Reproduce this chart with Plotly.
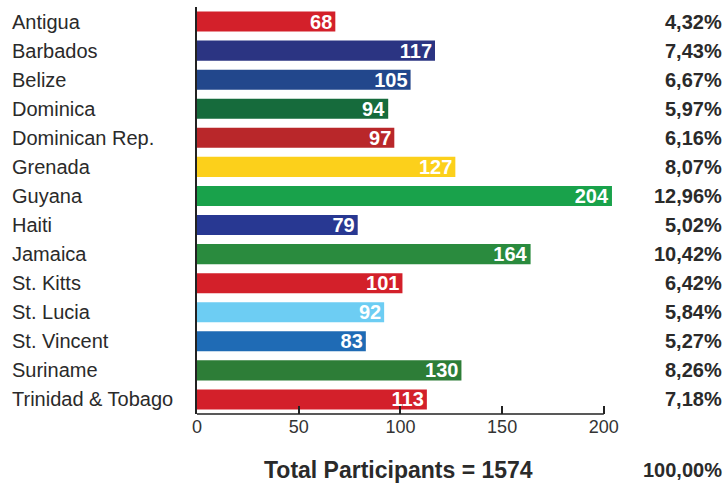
import plotly.graph_objects as go

countries = ["Antigua", "Barbados", "Belize", "Dominica", "Dominican Rep.", "Grenada",
             "Guyana", "Haiti", "Jamaica", "St. Kitts", "St. Lucia", "St. Vincent",
             "Suriname", "Trinidad & Tobago"]
participants = [68, 117, 105, 94, 97, 127, 204, 79, 164, 101, 92, 83, 130, 113]
bar_colors = ["#d3202a", "#2b3482", "#22478c", "#166b3c", "#b9272a", "#fcd01b",
              "#19a24b", "#283892", "#2a8b3e", "#d3202a", "#6dcdf3", "#1f6bb5",
              "#2d7d37", "#d3202a"]
x_ticks = [0, 50, 100, 150, 200]

total = sum(participants)

def fmt_pct(v):
    return f"{v / total * 100:.2f}".replace(".", ",") + "%"

W, H = 727, 492
L, R, T, B = 197, 113, 7, 78
pw = W - L - R

fig = go.Figure(go.Bar(
    x=participants, y=countries, orientation="h",
    marker=dict(color=bar_colors, line=dict(width=0)),
    text=[str(v) for v in participants],
    textposition="inside", insidetextanchor="end", constraintext="none",
    textfont=dict(family="Liberation Sans", size=20, color="white", weight="bold"),
    hoverinfo="skip",
))

annotations = []
for c, v in zip(countries, participants):
    annotations.append(dict(x=(10 - L) / pw, xref="paper", y=c, yref="y",
                            text=c, showarrow=False, xanchor="left", yanchor="middle",
                            font=dict(family="Liberation Sans", size=20, color="#2a2a2a")))
    annotations.append(dict(x=(724 - L) / pw, xref="paper", y=c, yref="y",
                            text=fmt_pct(v), showarrow=False, xanchor="right", yanchor="middle",
                            font=dict(family="Liberation Sans", size=20, color="#2a2a2a", weight="bold")))

ybot = -(470 - (H - B)) / (H - T - B)
annotations.append(dict(x=(398 - L) / pw, xref="paper", y=ybot, yref="paper",
                        text=f"Total Participants = {total}", showarrow=False,
                        xanchor="center", yanchor="middle",
                        font=dict(family="Liberation Sans", size=23, color="#2a2a2a", weight="bold")))
annotations.append(dict(x=(724 - L) / pw, xref="paper", y=ybot, yref="paper",
                        text=fmt_pct(total), showarrow=False,
                        xanchor="right", yanchor="middle",
                        font=dict(family="Liberation Sans", size=20, color="#2a2a2a", weight="bold")))

fig.update_layout(
    width=W, height=H,
    margin=dict(l=L, r=R, t=T, b=B, pad=0),
    paper_bgcolor="white", plot_bgcolor="white",
    bargap=0.31,
    showlegend=False,
    annotations=annotations,
    shapes=[dict(type="line", xref="x", yref="paper", x0=0, x1=x_ticks[-1], y0=0, y1=0,
                 line=dict(color="#222222", width=1.5), layer="above")],
    xaxis=dict(range=[0, 205], tickvals=x_ticks, ticktext=[str(t) for t in x_ticks],
               showgrid=False, zeroline=False, showline=False,
               ticks="inside", ticklen=8, tickwidth=1.5, tickcolor="#222222",
               tickfont=dict(family="Liberation Sans", size=18, color="#333333")),
    yaxis=dict(autorange="reversed", showgrid=False, zeroline=False, showline=True,
               linecolor="#222222", linewidth=1.5, showticklabels=False, ticks=""),
)

fig.write_html("out.html")
